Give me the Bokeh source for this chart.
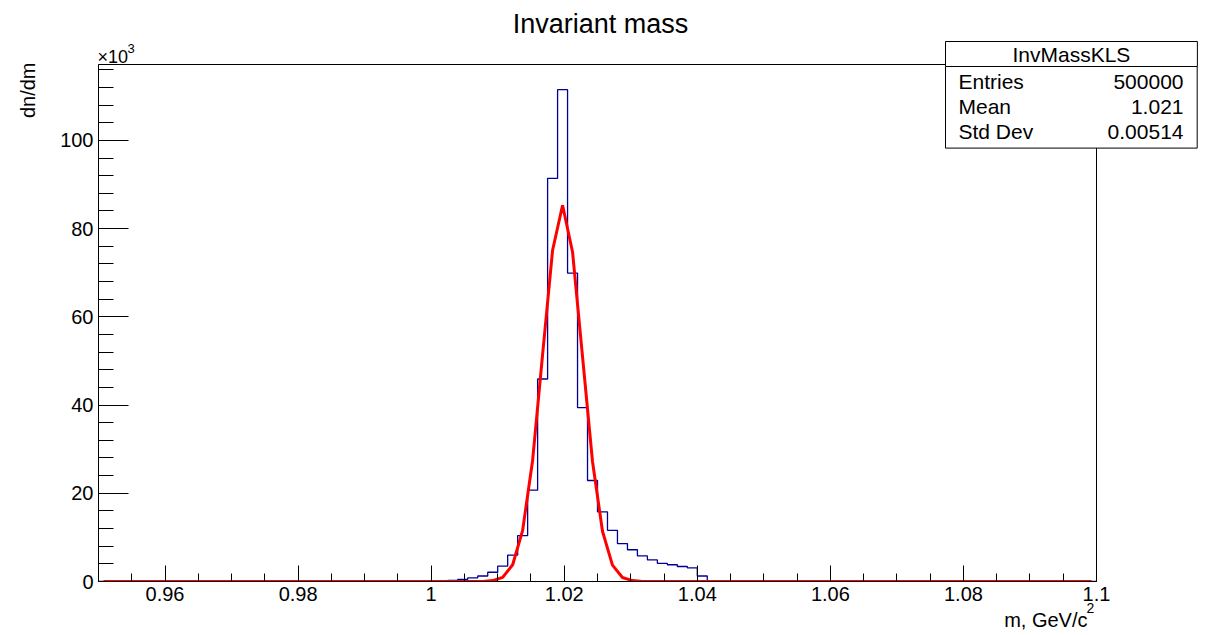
import numpy as np
from bokeh.plotting import figure
from bokeh.models import Range1d, FixedTicker, Label
from bokeh.embed import file_html
from bokeh.resources import INLINE

# ---------------- data ----------------
x_min, x_max = 0.95, 1.10
n_bins = 100
y_max_k = 117.2  # axis top, in units of 10^3

# histogram contents (x10^3) for bins starting at hist_first_bin
hist_first_bin = 33
hist_counts_k = [0.05, 0.12, 0.25, 0.5, 0.8, 1.25, 2.1, 3.5, 6.0, 10.4, 20.7,
                 45.9, 91.4, 111.5, 69.9, 39.4, 22.9, 15.8, 11.6, 8.6, 7.2,
                 5.8, 4.9, 4.1, 3.8, 3.4, 3.1, 1.25]

# fitted curve (x10^3) sampled at bin centres starting at fit_first_bin
fit_first_bin = 39
fit_values_k = [0.2, 0.95, 3.8, 11.6, 27.5, 51.5, 75.1, 85.3, 74.7, 51.0,
                27.2, 11.4, 3.7, 0.9, 0.2]

x_ticks = [0.96, 0.98, 1.0, 1.02, 1.04, 1.06, 1.08, 1.10]
x_tick_labels = ["0.96", "0.98", "1", "1.02", "1.04", "1.06", "1.08", "1.1"]
y_ticks = [0, 20, 40, 60, 80, 100]
y_tick_labels = ["0", "20", "40", "60", "80", "100"]

title_text = "Invariant mass"
x_title = "m, GeV/c"
x_title_sup = "2"
y_title = "dn/dm"
y_exponent = "\u00d710"
y_exponent_sup = "3"
stats_name = "InvMassKLS"
stats_keys = ["Entries", "Mean", "Std Dev"]
stats_vals = ["500000", "1.021", "0.00514"]

# ---------------- build arrays ----------------
bw = (x_max - x_min) / n_bins
edges = x_min + bw * np.arange(n_bins + 1)
centers = edges[:-1] + bw / 2
counts = np.zeros(n_bins)
counts[hist_first_bin:hist_first_bin + len(hist_counts_k)] = hist_counts_k
fit = np.zeros(n_bins)
fit[fit_first_bin:fit_first_bin + len(fit_values_k)] = fit_values_k

# ---------------- layout ----------------
FONT = "Liberation Sans"
ML, MT, FW, FH = 98, 64, 998, 517
W, H = 1200, 630

p = figure(width=W, height=H, frame_width=FW, frame_height=FH,
           min_border_left=ML, min_border_top=MT,
           min_border_right=W - ML - FW, min_border_bottom=H - MT - FH,
           x_range=Range1d(x_min, x_max), y_range=Range1d(0, y_max_k),
           output_backend="svg", toolbar_location=None, title=None)
p.background_fill_color = "white"
p.border_fill_color = "white"
p.outline_line_color = "black"
p.outline_line_width = 1
p.outline_line_alpha = 1
p.xgrid.visible = False
p.ygrid.visible = False

# canvas-pixel -> data helpers
def px2x(px):
    return x_min + (px - ML) / FW * (x_max - x_min)

def py2y(py):
    return y_max_k - (py - MT) / FH * y_max_k

x_minor = [round(v, 4) for v in np.arange(x_min, x_max + 1e-9, 0.005)]
y_minor = list(range(0, 118, 4))

xa = p.xaxis[0]
xa.ticker = FixedTicker(ticks=x_ticks, minor_ticks=x_minor)
xa.major_label_overrides = {v: s for v, s in zip(x_ticks, x_tick_labels)}
xa.major_tick_in = 16
xa.major_tick_out = 0
xa.minor_tick_in = 8
xa.minor_tick_out = 0
xa.major_label_standoff = 5
xa.major_label_text_font = FONT
xa.major_label_text_font_size = "20px"
xa.major_label_text_color = "black"
xa.axis_line_color = "black"
xa.major_tick_line_color = "black"
xa.minor_tick_line_color = "black"

ya = p.yaxis[0]
ya.ticker = FixedTicker(ticks=y_ticks, minor_ticks=y_minor)
ya.major_label_overrides = {v: s for v, s in zip(y_ticks, y_tick_labels)}
ya.major_tick_in = 30
ya.major_tick_out = 0
ya.minor_tick_in = 15
ya.minor_tick_out = 0
ya.major_label_standoff = 5
ya.major_label_text_font = FONT
ya.major_label_text_font_size = "20px"
ya.major_label_text_color = "black"
ya.axis_line_color = "black"
ya.major_tick_line_color = "black"
ya.minor_tick_line_color = "black"

# histogram outline
p.step(x=edges, y=np.append(counts, counts[-1]), mode="after",
       line_color="#000099", line_width=1.3)
# fit curve
p.line(x=centers, y=fit, line_color="#ff0000", line_width=3)

def lab(px, py, text, size, align="left", angle=0.0, **kw):
    lbl = Label(x=px2x(px), y=py2y(py), text=text, text_font=FONT,
                text_font_size=size, text_align=align,
                text_baseline="middle", text_color="black",
                angle=angle, **kw)
    p.add_layout(lbl, "right")
    return lbl

lab(600, 23, title_text, "27px", "center")
lab(97, 56, y_exponent, "18px", "left")
lab(127, 48, y_exponent_sup, "13px", "left")
lab(27, 62, y_title, "20px", "right", angle=np.pi / 2)
lab(1087, 619, x_title, "20px", "right")
lab(1086, 607, x_title_sup, "14px", "left")

# stats box (two bordered text boxes: header and rows)
BL, BR, BT, BH = 945, 1197, 41, 66
BW = BR - BL
SFS = 21
LH = 1.1
hdr_w = 118   # approx. text width of the header at 21px
rows_w = 75   # approx. width of the widest key at 21px
box_style = dict(border_line_color="black", border_line_width=1,
                 border_line_alpha=1, background_fill_color="white",
                 background_fill_alpha=1)
p.add_layout(Label(x=px2x(BL), y=py2y(BT), anchor="top_left",
                   text=stats_name, text_font=FONT,
                   text_font_size=f"{SFS}px", text_align="left",
                   text_color="black",
                   padding=dict(left=(BW - hdr_w) // 2,
                                right=BW - hdr_w - (BW - hdr_w) // 2,
                                top=1, bottom=1),
                   **box_style), "right")
p.add_layout(Label(x=px2x(BL), y=py2y(BH), anchor="top_left",
                   text="\n".join(stats_keys), text_font=FONT,
                   text_font_size=f"{SFS}px", text_align="left",
                   text_color="black", text_line_height=LH,
                   padding=dict(left=13, right=BW - 13 - rows_w,
                                top=3, bottom=5),
                   **box_style), "right")
p.add_layout(Label(x=px2x(BR), y=py2y(BH), anchor="top_right",
                   text="\n".join(stats_vals), text_font=FONT,
                   text_font_size=f"{SFS}px", text_align="right",
                   text_color="black", text_line_height=LH,
                   padding=dict(left=0, right=14, top=3, bottom=5)), "right")

open("out.html", "w").write(file_html(p, INLINE))
